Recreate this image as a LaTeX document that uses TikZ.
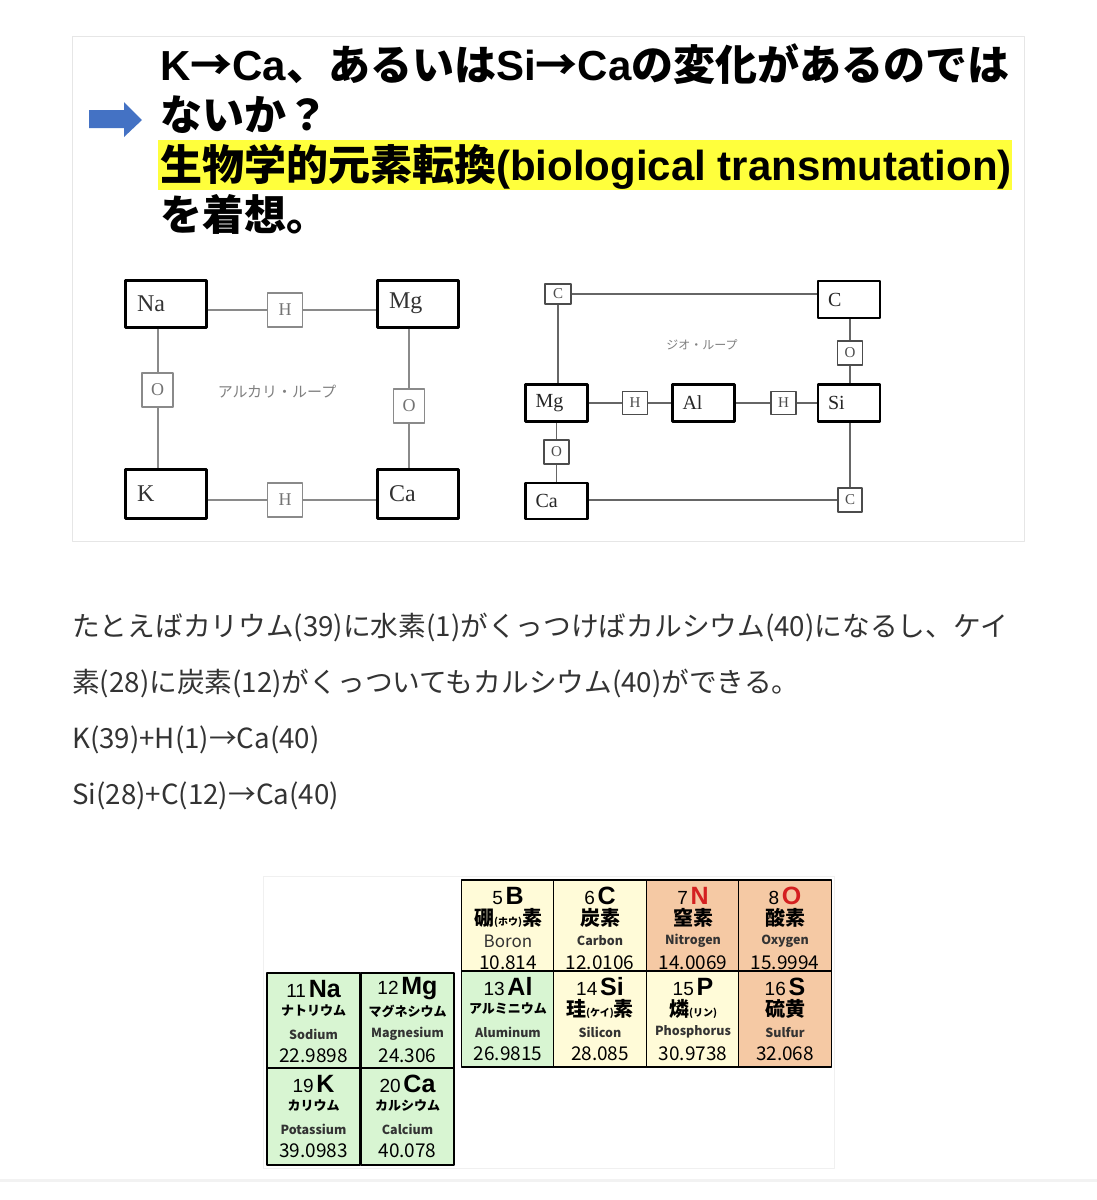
\documentclass[tikz,border=0pt]{standalone}
\usepackage{fontspec}
\setmainfont{Noto Sans CJK JP}
\newfontfamily\jp{Noto Sans CJK JP}
\newfontfamily\lat{Liberation Sans}
\newfontfamily\loopserif{Liberation Serif}
\usetikzlibrary{positioning}

\definecolor{panelgray}{HTML}{E6E6E6}
\definecolor{arrowblue}{HTML}{4472C4}
\definecolor{hiyellow}{HTML}{FFFF3C}
\definecolor{bodygray}{HTML}{333333}
\definecolor{linkgray}{HTML}{8A8A8A}
\definecolor{cellgreen}{HTML}{D8F5D2}
\definecolor{cellcream}{HTML}{FFFBD8}
\definecolor{cellorange}{HTML}{F5C9A4}
\definecolor{elred}{HTML}{D42020}

% sizes inside the element cells
\newcommand{\kb}{\fontsize{20}{20}\selectfont}
\newcommand{\kk}{\fontsize{13}{13}\selectfont}
\newcommand{\kp}{\fontsize{10}{10}\selectfont}

% one cell of the periodic table: x, top, height, fill, number, symbol, name, english, weight
\newcommand{\elcell}[9]{%
  \node[cellbox, fill=#4, minimum height=#3pt] (el#5) at (#1,{#2+#3/2}) {};
  \node[cellsym] (el#5s) at (#1,{#2+16}) {{\fontsize{19}{19}\selectfont #5} {\bfseries\fontsize{25}{25}\selectfont #6}};
  \node[celljp] (el#5j) at (#1,{#2+38}) {#7};
  \node[cellen] (el#5e) at (#1,{#2+61}) {#8};
  \node[cellwt] (el#5w) at (#1,{#2+83}) {#9};
}

\begin{document}
\begin{tikzpicture}[x=1pt, y=-1pt, line join=round]

    % ================= styles =================
    \tikzset{
        head/.style={font={\jp\bfseries\fontsize{42}{42}\selectfont}, inner sep=0pt, anchor=base west},
        body/.style={font={\jp\fontsize{27.7}{27.7}\selectfont}, text=bodygray, inner sep=0pt, anchor=base west},
        bigbox/.style={draw=black, line width=3pt, minimum width=81pt, minimum height=47pt,
            inner xsep=12pt, text width=57pt, align=left, text=black!80,
            font={\loopserif\fontsize{24}{24}\selectfont}},
        geobox/.style={draw=black, line width=2.6pt, minimum width=62pt, minimum height=37pt,
            inner xsep=10pt, text width=42pt, align=left, text=black!85,
            font={\loopserif\fontsize{20}{20}\selectfont}},
        minibox/.style={draw=linkgray, line width=1.6pt, fill=white, inner sep=0pt,
            minimum width=33pt, minimum height=34pt, text=black!55,
            font={\loopserif\fontsize{18}{18}\selectfont}},
        geomini/.style={draw=black!70, line width=1.4pt, fill=white, inner sep=0pt,
            minimum width=25pt, minimum height=23pt, text=black!70,
            font={\loopserif\fontsize{15}{15}\selectfont}},
        link/.style={draw=linkgray, line width=2pt},
        geolink/.style={draw=black!60, line width=1.6pt},
        looplabel/.style={text=black!50, inner sep=0pt},
        cellbox/.style={draw=black, line width=1.8pt, minimum width=93pt, inner sep=0pt},
        cellsym/.style={inner sep=0pt, font=\lat},
        celljp/.style={inner sep=0pt, font={\jp\bfseries\kb}},
        cellen/.style={inner sep=0pt, text=black!80, font={\jp\bfseries\fontsize{12.5}{12.5}\selectfont}},
        cellwt/.style={inner sep=0pt, font={\jp\fontsize{19}{19}\selectfont}}
    }

    \useasboundingbox (0,0) rectangle (1097,1200);
    \fill[white] (0,0) rectangle (1097,1200);

    % ================= 1. top panel =================
    \draw[panelgray, line width=1pt] (72,36) rectangle (1024,541);
    \fill[arrowblue] (89,110) -- (124,110) -- (124,102) -- (142,120)
        -- (124,137) -- (124,128) -- (89,128) -- cycle;
    \fill[hiyellow] (158,140) rectangle (1012,190);

    \node[head] (line1) at (160,80) {{\lat K}→{\lat Ca}、あるいは{\lat Si}→{\lat Ca}の変化があるのでは};
    \node[head] (line2) at (160,130) {ないか？};
    \node[head] (line3) at (160,180) {生物学的元素転換{\lat(biological transmutation)}};
    \node[head] (line4) at (160,230) {を着想。};

    % ================= 2. alkali loop =================
    \node[bigbox] (na) at (165.5,303.5) {Na};
    \node[bigbox] (mg) at (417.5,303.5) {Mg};
    \node[bigbox, minimum height=49pt] (k) at (165.5,493.5) {K};
    \node[bigbox, minimum height=49pt] (ca) at (417.5,493.5) {Ca};

    \node[minibox, minimum width=35pt] (hup) at (285,310) {H};
    \node[minibox, minimum width=35pt] (hdown) at (285,500) {H};
    \node[minibox, minimum width=31pt] (oleft) at (157.5,390) {O};
    \node[minibox, minimum width=31pt] (oright) at (409,406) {O};

    \draw[link] (na.east |- hup) -- (hup) -- (mg.west |- hup);
    \draw[link] (k.east |- hdown) -- (hdown) -- (ca.west |- hdown);
    \draw[link] (na.south -| oleft) -- (oleft) -- (k.north -| oleft);
    \draw[link] (mg.south -| oright) -- (oright) -- (ca.north -| oright);

    \node[looplabel, font={\jp\fontsize{15}{15}\selectfont}] (alkali) at (277,392) {アルカリ・ループ};

    % ================= 3. geo loop =================
    \node[geobox] (gc) at (849,299.5) {C};
    \node[geobox] (gmg) at (556.5,403) {Mg};
    \node[geobox] (gal) at (703.5,403) {Al};
    \node[geobox] (gsi) at (849,403) {Si};
    \node[geobox, minimum height=36pt] (gca) at (556.5,501) {Ca};

    \node[geomini, minimum width=26pt, minimum height=20pt] (cup) at (558,294) {C};
    \node[geomini, minimum width=24pt, minimum height=24pt] (cdown) at (850,500) {C};
    \node[geomini, minimum height=24pt] (oup) at (850,353) {O};
    \node[geomini, minimum height=24pt] (odown) at (556.5,452) {O};
    \node[geomini] (hleft) at (635,403) {H};
    \node[geomini] (hright) at (783.5,403) {H};

    \draw[geolink] (cup) -- (gc.west |- cup);
    \draw[geolink] (cup) -- (gmg.north -| cup);
    \draw[geolink] (gmg) -- (hleft) -- (gal) -- (hright) -- (gsi);
    \draw[geolink] (gc.south -| oup) -- (oup) -- (gsi.north -| oup);
    \draw[geolink] (gmg) -- (odown) -- (gca);
    \draw[geolink] (gca.east |- cdown) -- (cdown);
    \draw[geolink] (gsi.south -| cdown) -- (cdown);

    \node[looplabel, font={\jp\fontsize{12}{12}\selectfont}] (geo) at (702,345) {ジオ・ループ};

    % ================= 4. body text =================
    \node[body] (txt1) at (72,636) {たとえばカリウム(39)に水素(1)がくっつけばカルシウム(40)になるし、ケイ};
    \node[body] (txt2) at (72,692) {素(28)に炭素(12)がくっついてもカルシウム(40)ができる。};
    \node[body] (txt3) at (72,748) {K(39)+H(1)→Ca(40)};
    \node[body] (txt4) at (72,804) {Si(28)+C(12)→Ca(40)};

    % ================= 5. periodic table excerpt =================
    \draw[black!6, line width=1pt] (263,876) rectangle (834,1168);

    \elcell{508}{880}{91}{cellcream}{5}{B}{硼{\kp (ホウ)}素}{{\fontsize{17}{17}\selectfont\mdseries Boron}}{10.814}
    \elcell{600}{880}{91}{cellcream}{6}{C}{炭素}{Carbon}{12.0106}
    \elcell{693}{880}{91}{cellorange}{7}{\textcolor{elred}{N}}{窒素}{Nitrogen}{14.0069}
    \elcell{785}{880}{91}{cellorange}{8}{\textcolor{elred}{O}}{酸素}{Oxygen}{15.9994}

    \elcell{508}{971}{96}{cellgreen}{13}{Al}{{\kk アルミニウム}}{Aluminum}{26.9815}
    \elcell{600}{971}{96}{cellcream}{14}{Si}{珪{\kp (ケイ)}素}{Silicon}{28.085}
    \elcell{693}{971}{96}{cellcream}{15}{P}{燐{\kp (リン)}}{Phosphorus}{30.9738}
    \elcell{785}{971}{96}{cellorange}{16}{S}{硫黄}{Sulfur}{32.068}

    \elcell{313.5}{973}{95}{cellgreen}{11}{Na}{{\kk ナトリウム}}{Sodium}{22.9898}
    \elcell{407.5}{973}{95}{cellgreen}{12}{Mg}{{\kk マグネシウム}}{Magnesium}{24.306}
    \elcell{313.5}{1068}{97}{cellgreen}{19}{K}{{\kk カリウム}}{Potassium}{39.0983}
    \elcell{407.5}{1068}{97}{cellgreen}{20}{Ca}{{\kk カルシウム}}{Calcium}{40.078}

    % page rule at the bottom
    \draw[black!5, line width=3pt] (0,1180) -- (1097,1180);

\end{tikzpicture}
\end{document}
